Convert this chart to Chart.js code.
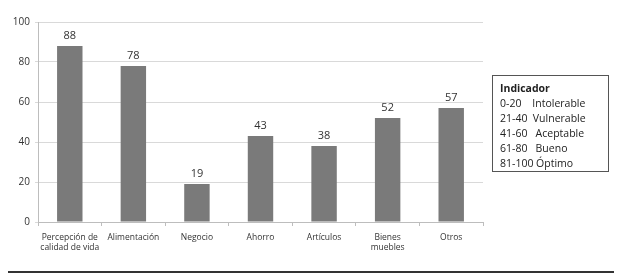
<!DOCTYPE html>
<html>
<head>
  <meta charset="utf-8">
  <script src="https://cdn.jsdelivr.net/npm/chart.js"></script>
  <style>
    body { margin: 0; background: #fff; font-family: "Open Sans", sans-serif; }
    #wrap { position: relative; width: 622px; height: 276px; }
    #legendBox {
      position: absolute; left: 492px; top: 75px; width: 117px; height: 97px;
      border: 1px solid #555; box-sizing: border-box; padding: 5px 0 0 7px;
      font-size: 10.5px; line-height: 15px; color: #222;
    }
    #legendBox b { font-weight: bold; }
    #rule { position: absolute; left: 8px; top: 271px; width: 606px; height: 2px; background: #333; }
  </style>
</head>
<body>
  <div id="wrap">
    <canvas id="barChart" width="622" height="276"></canvas>
    <div id="legendBox">
      <b>Indicador</b><br>
      0-20&nbsp;&nbsp;&nbsp; Intolerable<br>
      21-40 &nbsp;Vulnerable<br>
      41-60 &nbsp;&nbsp;Aceptable<br>
      61-80 &nbsp;&nbsp;Bueno<br>
      81-100 Óptimo
    </div>
    <div id="rule"></div>
  </div>

  <script>
    // categories and values
    const categories = [
      ["Percepción de", "calidad de vida"],
      "Alimentación",
      "Negocio",
      "Ahorro",
      "Artículos",
      ["Bienes", "muebles"],
      "Otros"
    ];
    const scores = [88, 78, 19, 43, 38, 52, 57];
    const yTicks = [0, 20, 40, 60, 80, 100];

    // simple value labels above each bar
    const valueLabels = {
      id: 'valueLabels',
      afterDatasetsDraw(chart) {
        const ctx = chart.ctx;
        const meta = chart.getDatasetMeta(0);
        ctx.save();
        ctx.font = '11px "Open Sans", sans-serif';
        ctx.fillStyle = '#333';
        ctx.textAlign = 'center';
        ctx.textBaseline = 'bottom';
        meta.data.forEach((bar, i) => {
          ctx.fillText(String(scores[i]), bar.x, bar.y - 5);
        });
        ctx.restore();
      }
    };

    new Chart(document.getElementById('barChart'), {
      type: 'bar',
      data: {
        labels: categories,
        datasets: [{
          data: scores,
          backgroundColor: '#7a7a7a',
          categoryPercentage: 1,
          barPercentage: 0.4
        }]
      },
      plugins: [valueLabels],
      options: {
        responsive: false,
        animation: false,
        layout: { padding: { top: 22, right: 139, left: 0, bottom: 0 } },
        plugins: { legend: { display: false }, tooltip: { enabled: false } },
        scales: {
          x: {
            grid: { display: true, drawOnChartArea: false, tickLength: 4, color: '#bdbdbd' },
            border: { color: '#bdbdbd' },
            ticks: { color: '#333', font: { size: 8.5, family: '"Open Sans", sans-serif' }, maxRotation: 0, autoSkip: false, padding: 6 },
            afterFit(scale) { scale.height = 54; }
          },
          y: {
            min: 0, max: 100,
            afterBuildTicks(scale) { scale.ticks = yTicks.map(v => ({ value: v })); },
            grid: { color: '#d9d9d9', tickLength: 3 },
            border: { color: '#bdbdbd' },
            ticks: { color: '#333', font: { size: 10, family: '"Open Sans", sans-serif' }, padding: 5 },
            afterFit(scale) { scale.width = 38; }
          }
        }
      }
    });
  </script>
</body>
</html>
